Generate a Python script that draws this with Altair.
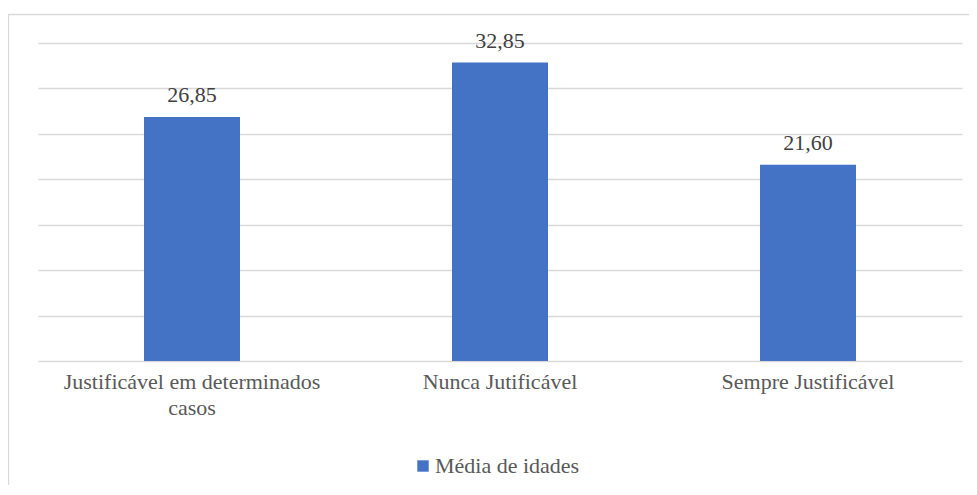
import altair as alt
import pandas as pd

categories = ["Justificável em determinados casos", "Nunca Jutificável", "Sempre Justificável"]
values = [26.85, 32.85, 21.60]
series = ["Média de idades"] * 3
grid_values = [0, 5, 10, 15, 20, 25, 30, 35]

df = pd.DataFrame({"cat": categories, "val": values, "serie": series})

W, H = 924, 318
FONT = "Liberation Serif"
FS = 22

base = alt.Chart(df).encode(
    x=alt.X("cat:N", sort=categories, title=None,
            scale=alt.Scale(paddingInner=0, paddingOuter=0),
            axis=alt.Axis(labelAngle=0, domain=False, ticks=False, grid=False, labelPadding=10,
                          labelFontSize=FS, labelFont=FONT, labelColor="#595959",
                          labelLineHeight=26, labelLimit=400,
                          labelExpr="datum.label == 'Justificável em determinados casos' ? ['Justificável em determinados', 'casos'] : datum.label")),
)

bars = base.mark_bar(size=96).encode(
    y=alt.Y("val:Q", title=None, scale=alt.Scale(domain=[0, 35], nice=False),
            axis=alt.Axis(values=grid_values, labels=False, ticks=False, domain=False,
                          gridColor="#d9d9d9", gridWidth=1.3)),
    color=alt.Color("serie:N", title=None,
                    scale=alt.Scale(domain=["Média de idades"], range=["#4472c4"]),
                    legend=alt.Legend(orient="none", legendX=374, legendY=412,
                                      symbolType="square", symbolSize=130,
                                      symbolStrokeWidth=0, labelFontSize=FS,
                                      labelFont=FONT, labelColor="#595959",
                                      labelOffset=1)),
)

text = base.transform_calculate(
    lbl="replace(format(datum.val, '.2f'), '.', ',')"
).mark_text(baseline="bottom", dy=-10, fontSize=FS, font=FONT, color="#404040").encode(
    y="val:Q", text="lbl:N"
)

frame = alt.Chart(alt.Data(values=[{}])).mark_rect(
    fill="transparent", stroke="#d9d9d9", strokeWidth=1.3, clip=False
).encode(
    x=alt.value(-29.5), x2=alt.value(960), y=alt.value(-28.5), y2=alt.value(470)
)

chart = alt.layer(frame, bars, text).properties(
    width=W, height=H,
    padding={"left": 30, "top": 35, "right": 7, "bottom": 124},
    autosize=alt.AutoSizeParams(type="none"),
).configure(
    background="white", font=FONT
).configure_view(strokeWidth=0)

chart.save("out.html", embed_options={"renderer": "svg", "actions": False})
